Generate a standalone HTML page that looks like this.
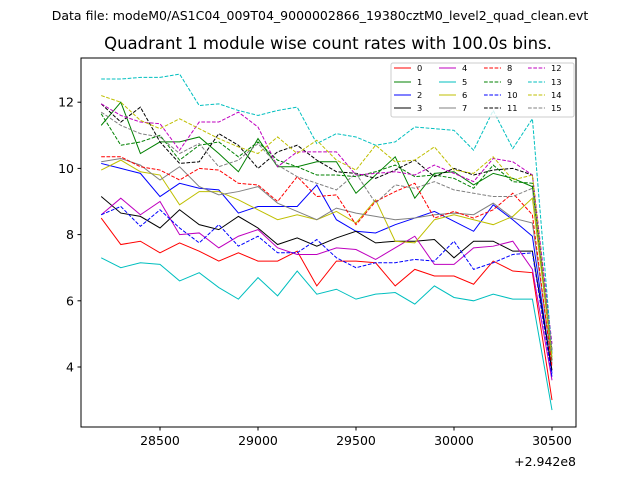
<!DOCTYPE html>
<html><head><meta charset="utf-8"><style>
body{margin:0;background:#fff;}
svg text{font-family:"DejaVu Sans","Liberation Sans",sans-serif;}
</style></head><body>
<svg id="chart" width="640" height="480" viewBox="0 0 640 480" xmlns="http://www.w3.org/2000/svg">
<rect width="640" height="480" fill="#fff"/>
<text x="320" y="20" font-size="12.5" text-anchor="middle">Data file: modeM0/AS1C04_009T04_9000002866_19380cztM0_level2_quad_clean.evt</text>
<text x="328" y="49" font-size="16.5" text-anchor="middle">Quadrant 1 module wise count rates with 100.0s bins.</text>
<g id="plot"></g>
<g id="axes"></g>
<g id="legend"></g>
</svg>
<script>
const times = [28200,28300,28400,28500,28600,28700,28800,28900,29000,29100,29200,29300,29400,29500,29600,29700,29800,29900,30000,30100,30200,30300,30400,30500];
const s0 = [8.5,7.7,7.8,7.45,7.75,7.5,7.2,7.45,7.2,7.2,7.5,6.45,7.2,7.2,7.15,6.45,6.95,6.75,6.75,6.5,7.2,6.9,6.85,3.0];
const s1 = [11.3,12.0,10.45,10.8,10.8,10.95,10.45,9.9,10.9,10.05,10.05,10.2,10.2,9.25,9.8,10.35,9.1,9.85,9.9,9.5,9.85,9.7,9.45,4.2];
const s2 = [10.15,10.0,9.85,9.15,9.55,9.4,9.35,8.65,8.85,8.85,8.85,9.5,8.45,8.1,8.05,8.3,8.5,8.7,8.4,8.1,8.9,8.45,7.95,3.8];
const s3 = [9.15,8.65,8.55,8.2,8.75,8.3,8.15,8.55,8.2,7.7,7.9,7.65,7.9,8.1,7.75,7.8,7.8,7.85,7.3,7.8,7.8,7.5,7.5,3.9];
const s4 = [8.6,9.1,8.6,9.0,8.0,8.05,7.6,7.95,8.15,7.6,7.4,7.4,7.6,7.55,7.25,7.6,7.95,7.1,7.1,7.6,7.65,7.8,6.95,3.6];
const s5 = [7.3,7.0,7.15,7.1,6.6,6.85,6.4,6.05,6.7,6.15,6.9,6.2,6.35,6.05,6.2,6.25,5.9,6.45,6.1,6.0,6.2,6.05,6.05,2.7];
const s6 = [9.95,10.25,9.9,9.8,8.9,9.3,9.3,9.05,8.75,8.45,8.6,8.45,8.7,8.35,9.05,7.8,7.75,8.45,8.6,8.45,8.3,8.55,9.1,4.3];
const s7 = [10.2,10.3,10.1,9.65,10.05,9.45,9.2,9.3,9.45,8.95,8.7,8.45,8.8,8.65,8.55,8.45,8.5,8.6,8.65,8.6,8.95,8.5,8.35,4.1];
const s8 = [10.35,10.35,10.05,9.95,9.65,10.0,9.95,9.55,9.5,9.0,9.75,9.15,9.2,8.3,9.0,9.3,9.55,8.5,8.7,8.5,8.75,9.25,8.6,4.0];
const s9 = [11.65,10.7,10.8,11.0,10.25,10.7,10.8,10.35,10.8,10.25,10.05,9.8,9.8,9.75,9.9,10.1,9.75,9.8,9.7,9.4,10.1,9.6,9.55,4.4];
const s10 = [8.6,8.85,8.25,8.75,8.2,7.75,8.3,7.65,7.95,7.45,7.45,7.85,7.3,7.0,7.15,7.15,7.25,7.2,7.8,6.95,7.15,7.4,7.45,3.7];
const s11 = [11.95,11.4,11.85,10.8,10.15,10.2,11.05,10.7,10.0,10.5,10.7,10.25,9.9,9.85,9.7,9.95,10.25,9.75,10.0,9.8,9.95,10.0,9.8,4.5];
const s12 = [11.95,11.6,11.4,11.35,10.55,11.4,11.4,11.7,11.25,10.05,10.5,10.5,10.5,9.8,9.85,9.9,9.8,10.1,9.85,9.6,10.3,10.2,9.8,4.7];
const s13 = [12.7,12.7,12.75,12.75,12.85,11.9,11.95,11.75,11.6,11.75,11.85,10.75,11.05,10.95,10.7,10.8,11.25,11.2,11.15,10.55,11.75,10.6,11.5,4.4];
const s14 = [12.2,12.0,11.45,11.2,11.5,11.2,10.9,10.65,10.45,10.95,10.45,10.85,10.25,9.95,10.7,10.2,10.25,10.65,9.95,9.85,10.35,9.65,9.8,4.3];
const s15 = [11.7,11.3,11.05,10.95,10.45,10.75,10.05,10.25,10.75,10.1,9.75,9.55,9.35,9.85,8.95,9.5,9.4,9.6,9.35,9.25,9.15,9.15,9.4,4.5];
const seriesNames = ["0","1","2","3","4","5","6","7","8","9","10","11","12","13","14","15"];
const xTicks = [28500,29000,29500,30000,30500];
const yTicks = [4,6,8,10,12];

const allSeries=[s0,s1,s2,s3,s4,s5,s6,s7,s8,s9,s10,s11,s12,s13,s14,s15];
const colors=["#ff0000","#008000","#0000ff","#000000","#bf00bf","#00bfbf","#bfbf00","#808080"];
const L=81,R=576,T=58,B=427;
function xs(t){return 160+(t-28500)*98/500;}
function ys(v){return 367-(v-4)*33.1;}
const NS="http://www.w3.org/2000/svg";
function mk(tag,attrs,parent){const e=document.createElementNS(NS,tag);for(const k in attrs)e.setAttribute(k,attrs[k]);parent.appendChild(e);return e;}
const plot=document.getElementById('plot');
const axes=document.getElementById('axes');
const legend=document.getElementById('legend');
allSeries.forEach((s,i)=>{
  const pts=s.map((v,j)=>xs(times[j]).toFixed(2)+","+ys(v).toFixed(2)).join(" ");
  const a={points:pts,fill:"none",stroke:colors[i%8],"stroke-width":1};
  if(i>=8)a["stroke-dasharray"]="3.7,1.6";
  const pl=mk('polyline',a,plot);
  
  
});
const frame=mk('rect',{x:L,y:T,width:R-L,height:B-T,fill:"none",stroke:"#000","stroke-width":1},axes);


xTicks.forEach(t=>{
  const x=xs(t);
  const tk=mk('line',{x1:x,x2:x,y1:B,y2:B+3.5,stroke:"#000"},axes);
  
  
  const tx=mk('text',{x:x,y:B+18,"font-size":12.5,"text-anchor":"middle"},axes);
  tx.textContent=t;
  
  
});
yTicks.forEach(v=>{
  const y=ys(v);
  const tk=mk('line',{x1:L-3.5,x2:L,y1:y,y2:y,stroke:"#000"},axes);
  
  
  const tx=mk('text',{x:L-7,y:y+4.5,"font-size":12.5,"text-anchor":"end"},axes);
  tx.textContent=v;
  
  
});
const off=mk('text',{x:576,y:466,"font-size":12.5,"text-anchor":"end"},axes);
off.textContent="+2.942e8";


const lb=mk('rect',{x:391,y:63,width:183,height:54,rx:2,fill:"#fff","fill-opacity":0.8,stroke:"#ccc","stroke-width":1},legend);


const colX=[394,439,484,528],rowY=[68,82,95,108];
seriesNames.forEach((n,i)=>{
  const c=Math.floor(i/4),r=i%4;
  const a={x1:colX[c],x2:colX[c]+17,y1:rowY[r],y2:rowY[r],stroke:colors[i%8],"stroke-width":1};
  if(i>=8)a["stroke-dasharray"]="3.7,1.6";
  const ln=mk('line',a,legend);
  
  
  const tx=mk('text',{x:colX[c]+23,y:rowY[r]+3,"font-size":8.3},legend);
  tx.textContent=n;
  
  
});
</script>
</body></html>
